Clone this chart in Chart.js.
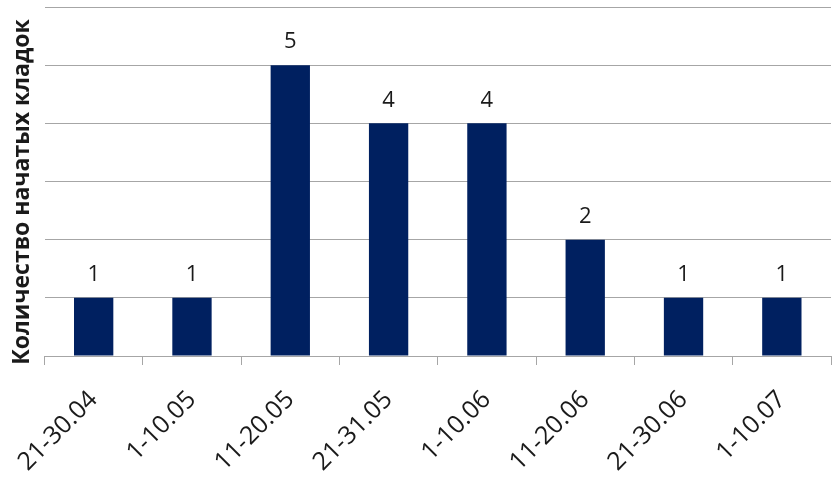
<!DOCTYPE html>
<html>
<head>
<meta charset="utf-8">
<script src="https://cdn.jsdelivr.net/npm/chart.js@4"></script>
<style>
  html, body { margin: 0; padding: 0; background: #fff; }
  #chart { display: block; }
</style>
</head>
<body>
<canvas id="chart" width="839" height="486"></canvas>
<script>
const periods = ["21-30.04", "1-10.05", "11-20.05", "21-31.05", "1-10.06", "11-20.06", "21-30.06", "1-10.07"];
const clutchCounts = [1, 1, 5, 4, 4, 2, 1, 1];
const yAxisTitle = "Количество начатых кладок";

// numbers above the bars + the y title (drawn by hand so it sits a bit lower)
const valueLabels = {
  id: "valueLabels",
  afterDatasetsDraw(chart) {
    const ctx = chart.ctx;
    const meta = chart.getDatasetMeta(0);
    ctx.save();
    ctx.font = "22px 'Open Sans'";
    ctx.fillStyle = "#1a1a1a";
    ctx.textAlign = "center";
    ctx.textBaseline = "middle";
    meta.data.forEach((bar, i) => {
      ctx.fillText(String(clutchCounts[i]), bar.x, bar.y - 23);
    });
    ctx.restore();

    ctx.save();
    ctx.translate(22, 192);
    ctx.rotate(-Math.PI / 2);
    ctx.font = "bold 23px 'Open Sans'";
    ctx.fillStyle = "#1a1a1a";
    ctx.textAlign = "center";
    ctx.textBaseline = "middle";
    ctx.fillText(yAxisTitle, 0, 0);
    ctx.restore();
  },
};

const ctx = document.getElementById("chart").getContext("2d");
const chart = new Chart(ctx, {
  type: "bar",
  data: {
    labels: periods,
    datasets: [
      {
        data: clutchCounts,
        backgroundColor: "#002060",
        barPercentage: 0.4,
        categoryPercentage: 1,
      },
    ],
  },
  options: {
    responsive: false,
    animation: false,
    layout: { padding: { top: 7, right: 8, left: 0, bottom: 0 } },
    plugins: { legend: { display: false }, tooltip: { enabled: false } },
    scales: {
      x: {
        grid: {
          offset: true,
          drawOnChartArea: false,
          drawTicks: true,
          tickLength: 9,
          color: "#a6a6a6",
        },
        border: { display: true, color: "#a6a6a6", width: 1 },
        ticks: {
          maxRotation: 45,
          minRotation: 45,
          padding: 20,
          color: "#1a1a1a",
          font: { family: "'Open Sans'", size: 25 },
        },
        afterFit(scale) {
          scale.height = 130;
        },
      },
      y: {
        min: 0,
        max: 6,
        ticks: { display: false, stepSize: 1 },
        grid: { color: "#a6a6a6", drawTicks: false },
        border: { display: false },
        afterFit(scale) {
          scale.width = 43;
        },
      },
    },
  },
  plugins: [valueLabels],
});
</script>
</body>
</html>
